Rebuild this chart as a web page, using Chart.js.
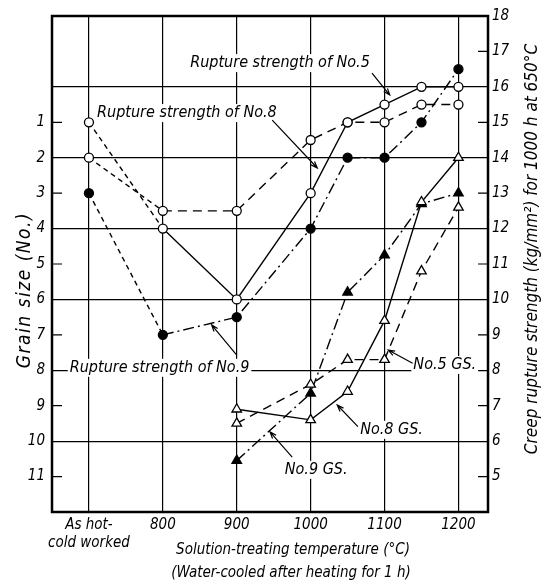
<!DOCTYPE html>
<html lang="en">
<head>
<meta charset="UTF-8">
<title>Grain size and creep rupture strength</title>
<script src="https://cdn.jsdelivr.net/npm/chart.js"></script>
<style>
    body {
        margin: 0;
        background: #fff;
    }
    .wrap {
        position: relative;
        width: 553px;
        height: 585px;
    }
</style>
</head>
<body>
<div class="wrap"><canvas id="chart"></canvas></div>
<script>
    // 700 on the axis stands for "as hot-cold worked"
    const tempsRupture = [700, 800, 900, 1000, 1050, 1100, 1150, 1200];
    const tempsGrain = [900, 1000, 1050, 1100, 1150, 1200];

    // creep rupture strength (kg/mm2) for 1000 h at 650C, right axis
    const ruptureNo8 = [15, 12, 10, 13, 15, 15.5, 16, 16];
    const ruptureNo5 = [14, 12.5, 12.5, 14.5, 15, 15, 15.5, 15.5];
    const ruptureNo9 = [13, 9, 9.5, 12, 14, 14, 15, 16.5];

    // grain size number, left axis (reversed)
    const grainNo5 = [9.5, 8.4, 7.7, 7.7, 5.2, 3.4];
    const grainNo8 = [9.1, 9.4, 8.6, 6.6, 3.25, 2.0];
    const grainNo9 = [10.55, 8.65, 5.8, 4.75, 3.3, 3.0];

    const xTicks = [700, 800, 900, 1000, 1100, 1200];
    const xTickLabels = [['As hot-', 'cold worked'], '800', '900', '1000', '1100', '1200'];
    const grainTicks = [1, 2, 3, 4, 5, 6, 7, 8, 9, 10, 11];
    const strengthTicks = [5, 6, 7, 8, 9, 10, 11, 12, 13, 14, 15, 16, 17, 18];

    const FONT = '"Liberation Sans Narrow", "DejaVu Sans Condensed", "Liberation Sans", sans-serif';
    const SOLID = [], LONG = [9, 6], DASHDOT = [11, 4, 2, 4], SHORT = [5, 4];

    // in-plot labels, placed in (temperature, strength) units
    const notes = [
        { text: 'Rupture strength of No.5', x: 837, y: 16.67, from: [1083, 16.39], to: [1107, 15.77] },
        { text: 'Rupture strength of No.8', x: 711, y: 15.26, from: [948, 15.06], to: [1009, 13.71] },
        { text: 'Rupture strength of No.9', x: 674, y: 8.07, from: [900, 8.43], to: [866, 9.28] },
        { text: 'No.5 GS.', x: 1139, y: 8.15, from: [1138, 8.2], to: [1105, 8.57] },
        { text: 'No.8 GS.', x: 1067, y: 6.32, from: [1064, 6.41], to: [1036, 7.02] },
        { text: 'No.9 GS.', x: 965, y: 5.19, from: [975, 5.55], to: [945, 6.26] }
    ];

    function pts(xs, ys) {
        return xs.map((x, i) => ({ x: x, y: ys[i] }));
    }

    function series(label, xs, ys, axis, dash, style, filled, firstDash) {
        return {
            label: label,
            data: pts(xs, ys),
            yAxisID: axis,
            borderColor: '#000',
            borderWidth: 1.4,
            borderDash: dash,
            pointStyle: style,
            pointRadius: style === 'triangle' ? 5.5 : 4.5,
            pointBorderWidth: 1.3,
            pointBorderColor: '#000',
            pointBackgroundColor: filled ? '#000' : '#fff',
            fill: false,
            tension: 0,
            segment: {
                borderDash: ctx => (firstDash && ctx.p0DataIndex === 0) ? SHORT : undefined
            }
        };
    }

    const datasets = [
        series('Rupture strength of No.8', tempsRupture, ruptureNo8, 's', SOLID, 'circle', false, true),
        series('Rupture strength of No.5', tempsRupture, ruptureNo5, 's', LONG, 'circle', false, true),
        series('Rupture strength of No.9', tempsRupture, ruptureNo9, 's', DASHDOT, 'circle', true, true),
        series('No.5 GS.', tempsGrain, grainNo5, 'g', LONG, 'triangle', false, false),
        series('No.8 GS.', tempsGrain, grainNo8, 'g', SOLID, 'triangle', false, false),
        series('No.9 GS.', tempsGrain, grainNo9, 'g', DASHDOT, 'triangle', true, false)
    ];

    function arrow(ctx, x0, y0, x1, y1) {
        const ang = Math.atan2(y1 - y0, x1 - x0);
        ctx.beginPath();
        ctx.moveTo(x0, y0);
        ctx.lineTo(x1, y1);
        ctx.moveTo(x1 - 7 * Math.cos(ang - 0.35), y1 - 7 * Math.sin(ang - 0.35));
        ctx.lineTo(x1, y1);
        ctx.lineTo(x1 - 7 * Math.cos(ang + 0.35), y1 - 7 * Math.sin(ang + 0.35));
        ctx.stroke();
    }

    const figureText = {
        id: 'figureText',
        beforeDatasetsDraw(chart) {
            const { ctx, chartArea: a, scales } = chart;
            const xs = scales.x, ss = scales.s, gs = scales.g;
            ctx.save();
            ctx.strokeStyle = '#000';
            ctx.lineWidth = 1.2;
            // short ticks pointing into the plot at odd values
            ctx.beginPath();
            grainTicks.filter(v => v % 2).forEach(v => {
                const py = gs.getPixelForValue(v);
                ctx.moveTo(a.left, py);
                ctx.lineTo(a.left + 10, py);
            });
            strengthTicks.filter(v => v % 2).forEach(v => {
                const py = ss.getPixelForValue(v);
                ctx.moveTo(a.right - 10, py);
                ctx.lineTo(a.right, py);
            });
            ctx.stroke();

            ctx.font = 'italic 16px ' + FONT;
            ctx.textBaseline = 'middle';
            ctx.textAlign = 'left';
            notes.forEach(n => {
                const px = xs.getPixelForValue(n.x), py = ss.getPixelForValue(n.y);
                const w = ctx.measureText(n.text).width;
                ctx.fillStyle = '#fff';
                ctx.fillRect(px - 2, py - 9, w + 4, 18);
                ctx.fillStyle = '#000';
                ctx.fillText(n.text, px, py);
                arrow(ctx, xs.getPixelForValue(n.from[0]), ss.getPixelForValue(n.from[1]),
                    xs.getPixelForValue(n.to[0]), ss.getPixelForValue(n.to[1]));
            });
            ctx.restore();
        },
        afterDraw(chart) {
            const { ctx, chartArea: a } = chart;
            ctx.save();
            ctx.strokeStyle = '#000';
            ctx.lineWidth = 2.5;
            ctx.strokeRect(a.left, a.top, a.right - a.left, a.bottom - a.top);

            ctx.fillStyle = '#000';
            ctx.textAlign = 'center';
            ctx.textBaseline = 'middle';
            ctx.font = 'italic 15px ' + FONT;
            ctx.fillText('Solution-treating temperature (°C)', 293, 550);
            ctx.fillText('(Water-cooled after heating for 1 h)', 291, 573);

            ctx.font = 'italic 19px ' + FONT;
            ctx.letterSpacing = '1.5px';
            ctx.translate(25, 290);
            ctx.rotate(-Math.PI / 2);
            ctx.fillText('Grain size (No.)', 0, 0);
            ctx.restore();

            ctx.save();
            ctx.fillStyle = '#000';
            ctx.textAlign = 'center';
            ctx.textBaseline = 'middle';
            ctx.font = 'italic 17px ' + FONT;
            ctx.translate(533, 249);
            ctx.rotate(-Math.PI / 2);
            ctx.fillText('Creep rupture strength (kg/mm²) for 1000 h at 650°C', 0, 0);
            ctx.restore();
        }
    };

    const tickFont = { family: FONT, size: 15, style: 'italic' };

    new Chart(document.getElementById('chart'), {
        type: 'line',
        data: { datasets: datasets },
        options: {
            responsive: true,
            maintainAspectRatio: false,
            animation: false,
            layout: { padding: { top: 16, left: 0, right: 0, bottom: 0 } },
            plugins: {
                legend: { display: false },
                tooltip: { enabled: false }
            },
            scales: {
                x: {
                    type: 'linear',
                    min: 650,
                    max: 1240,
                    afterBuildTicks: s => { s.ticks = xTicks.map(v => ({ value: v })); },
                    afterFit: s => { s.height = 73; },
                    ticks: {
                        autoSkip: false,
                        maxRotation: 0,
                        padding: 4,
                        color: '#000',
                        font: tickFont,
                        callback: v => xTickLabels[xTicks.indexOf(v)]
                    },
                    grid: { color: '#000', lineWidth: 1.2, drawTicks: false },
                    border: { display: false }
                },
                g: {
                    type: 'linear',
                    position: 'left',
                    reverse: true,
                    min: -2,
                    max: 12,
                    afterBuildTicks: s => { s.ticks = grainTicks.map(v => ({ value: v })); },
                    afterFit: s => { s.width = 52; },
                    ticks: { padding: 7, color: '#000', font: tickFont },
                    grid: { display: false, drawTicks: false },
                    border: { display: false }
                },
                s: {
                    type: 'linear',
                    position: 'right',
                    min: 4,
                    max: 18,
                    afterBuildTicks: s => { s.ticks = strengthTicks.map(v => ({ value: v })); },
                    afterFit: s => { s.width = 65; },
                    ticks: { padding: 4, color: '#000', font: tickFont },
                    grid: {
                        drawTicks: false,
                        lineWidth: 1.2,
                        color: c => (c.tick && c.tick.value % 2 === 0 && c.tick.value < 18) ? '#000' : 'rgba(0,0,0,0)'
                    },
                    border: { display: false }
                }
            }
        },
        plugins: [figureText]
    });
</script>
</body>
</html>
